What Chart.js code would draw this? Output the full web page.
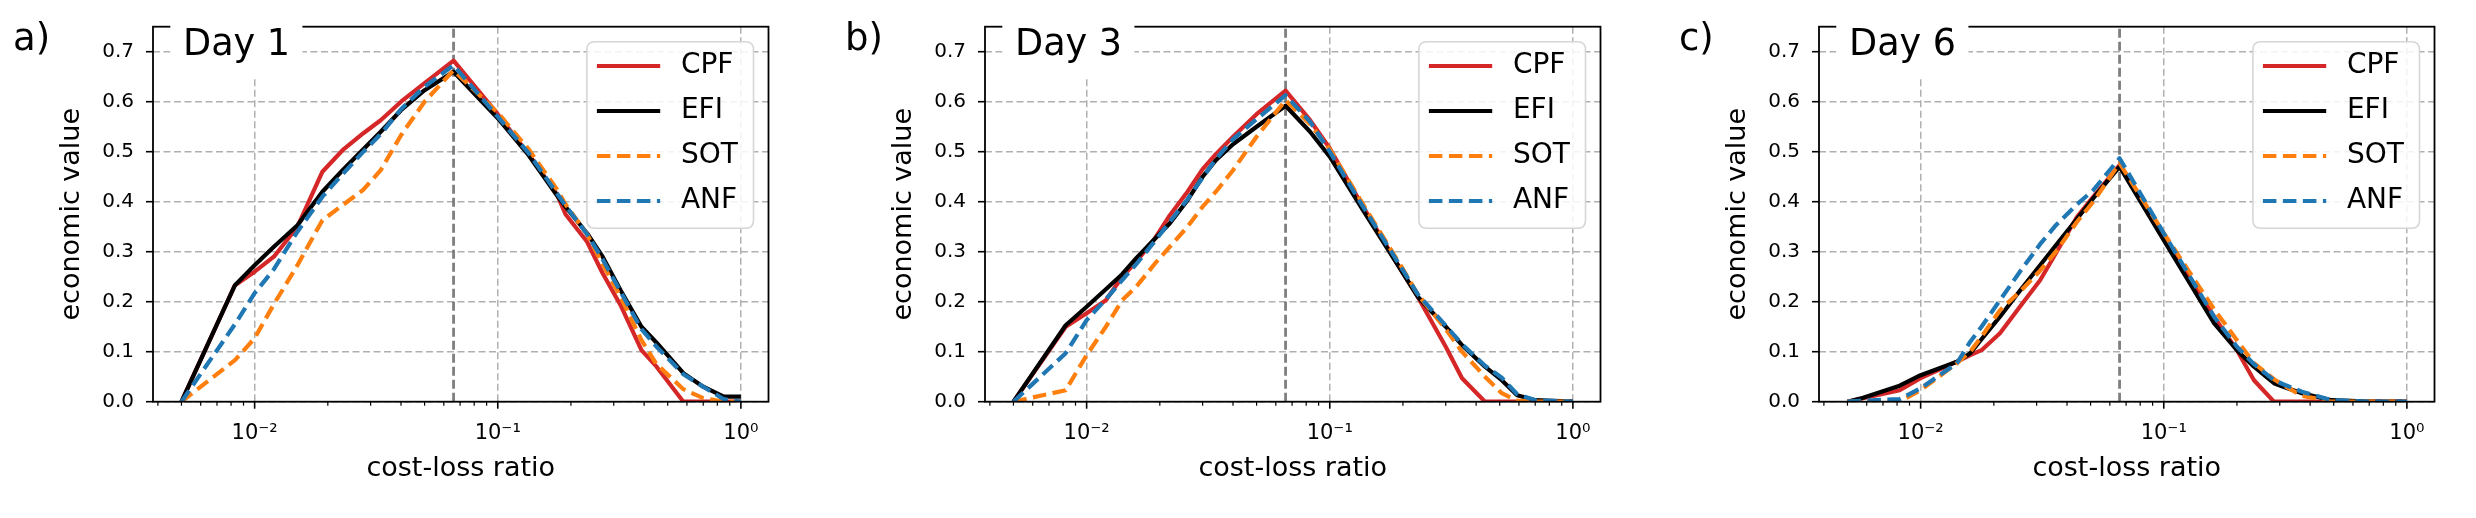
<!DOCTYPE html>
<html>
<head>
<meta charset="utf-8">
<script src="https://cdn.jsdelivr.net/npm/chart.js@4.4.1/dist/chart.umd.min.js"></script>
<style>
  html, body { margin:0; padding:0; background:#fff; }
  body { width:2476px; height:518px; overflow:hidden; position:relative; }
  canvas { position:absolute; top:0; }
</style>
</head>
<body>
<canvas id="c0" width="810" height="518" style="left:0px"></canvas>
<canvas id="c1" width="810" height="518" style="left:832px"></canvas>
<canvas id="c2" width="810" height="518" style="left:1666px"></canvas>
<script>
// ---------------- data ----------------
const PANEL_LABELS = ['a)', 'b)', 'c)'];
const DAY_TITLES = ['Day 1', 'Day 3', 'Day 6'];
const SERIES_NAMES = ['CPF', 'EFI', 'SOT', 'ANF'];
const CLIM = 0.0658;

const X_DAY1 = [0.005, 0.0083, 0.01, 0.012, 0.015, 0.019, 0.023, 0.028, 0.033, 0.04, 0.05, 0.0658, 0.1, 0.134, 0.175, 0.19, 0.233, 0.27, 0.32, 0.39, 0.45, 0.58, 0.7, 0.85, 1.0];
const CPF_DAY1 = [0, 0.233, 0.26, 0.29, 0.35, 0.46, 0.503, 0.537, 0.563, 0.60, 0.637, 0.682, 0.575, 0.495, 0.415, 0.375, 0.32, 0.257, 0.193, 0.103, 0.07, 0, 0, 0, 0];
const EFI_DAY1 = [0, 0.233, 0.273, 0.31, 0.353, 0.42, 0.463, 0.505, 0.54, 0.583, 0.623, 0.66, 0.567, 0.493, 0.413, 0.39, 0.337, 0.29, 0.223, 0.15, 0.118, 0.057, 0.03, 0.01, 0.01];
const SOT_DAY1 = [0, 0.083, 0.127, 0.195, 0.273, 0.363, 0.393, 0.424, 0.463, 0.533, 0.60, 0.663, 0.578, 0.505, 0.425, 0.395, 0.335, 0.275, 0.21, 0.123, 0.075, 0.025, 0.007, 0, 0];
const ANF_DAY1 = [0, 0.155, 0.217, 0.265, 0.34, 0.41, 0.455, 0.50, 0.535, 0.585, 0.63, 0.673, 0.57, 0.497, 0.417, 0.392, 0.335, 0.285, 0.22, 0.145, 0.11, 0.055, 0.03, 0.005, 0];

const X_DAY3 = [0.005, 0.0082, 0.01, 0.012, 0.014, 0.016, 0.019, 0.022, 0.026, 0.03, 0.034, 0.04, 0.05, 0.0658, 0.083, 0.1, 0.137, 0.2, 0.23, 0.3, 0.35, 0.435, 0.51, 0.59, 0.7, 1.0];
const CPF_DAY3 = [0, 0.15, 0.177, 0.203, 0.25, 0.28, 0.325, 0.373, 0.42, 0.465, 0.495, 0.53, 0.575, 0.622, 0.563, 0.507, 0.39, 0.257, 0.21, 0.11, 0.047, 0, 0, 0, 0, 0];
const EFI_DAY3 = [0, 0.153, 0.19, 0.225, 0.255, 0.287, 0.325, 0.357, 0.403, 0.45, 0.483, 0.515, 0.55, 0.592, 0.54, 0.49, 0.383, 0.257, 0.21, 0.15, 0.113, 0.07, 0.043, 0.013, 0.003, 0];
const SOT_DAY3 = [0, 0.023, 0.093, 0.15, 0.203, 0.23, 0.275, 0.31, 0.35, 0.39, 0.42, 0.463, 0.53, 0.603, 0.555, 0.505, 0.395, 0.265, 0.215, 0.145, 0.1, 0.05, 0.017, 0.002, 0, 0];
const ANF_DAY3 = [0, 0.097, 0.163, 0.205, 0.243, 0.275, 0.32, 0.36, 0.405, 0.448, 0.485, 0.525, 0.565, 0.613, 0.56, 0.5, 0.39, 0.263, 0.215, 0.152, 0.115, 0.072, 0.048, 0.015, 0.003, 0];

const X_DAY6 = [0.005, 0.0058, 0.0082, 0.01, 0.0141, 0.016, 0.0178, 0.0212, 0.0256, 0.031, 0.036, 0.044, 0.0513, 0.0658, 0.1, 0.161, 0.2, 0.235, 0.284, 0.31, 0.37, 0.49, 0.7, 1.0];
const CPF_DAY6 = [0, 0.007, 0.023, 0.047, 0.08, 0.093, 0.103, 0.137, 0.19, 0.243, 0.297, 0.37, 0.41, 0.473, 0.33, 0.17, 0.103, 0.043, 0, 0, 0, 0, 0, 0];
const EFI_DAY6 = [0, 0.008, 0.032, 0.053, 0.08, 0.097, 0.125, 0.17, 0.222, 0.273, 0.313, 0.366, 0.407, 0.47, 0.323, 0.157, 0.103, 0.07, 0.037, 0.03, 0.017, 0.003, 0, 0];
const SOT_DAY6 = [0, 0, 0, 0.023, 0.077, 0.1, 0.13, 0.183, 0.22, 0.262, 0.3, 0.36, 0.4, 0.477, 0.337, 0.185, 0.123, 0.077, 0.045, 0.033, 0.012, 0, 0, 0];
const ANF_DAY6 = [0, 0.002, 0.005, 0.027, 0.077, 0.12, 0.15, 0.203, 0.26, 0.315, 0.353, 0.395, 0.423, 0.487, 0.337, 0.17, 0.11, 0.075, 0.043, 0.035, 0.02, 0.003, 0, 0];

const Y_TICKS = [0, 0.1, 0.2, 0.3, 0.4, 0.5, 0.6, 0.7];
const X_TICKS = [0.004, 0.005, 0.006, 0.007, 0.008, 0.009,
                 0.01, 0.02, 0.03, 0.04, 0.05, 0.06, 0.07, 0.08, 0.09,
                 0.1, 0.2, 0.3, 0.4, 0.5, 0.6, 0.7, 0.8, 0.9, 1.0];
const DECADE_LABELS = { '-2': '10\u207B\u00B2', '-1': '10\u207B\u00B9', '0': '10\u2070' };

// ---------------- style ----------------
const FONT = 'DejaVu Sans';
const COLORS = ['#d62728', '#000000', '#ff7f0e', '#1f77b4'];
const LW = 4.2;
const DASH = [13.5, 6.5];
const DASHES = [[], [], DASH, DASH];

const PANELS = [
  { x: X_DAY1, series: [CPF_DAY1, EFI_DAY1, SOT_DAY1, ANF_DAY1] },
  { x: X_DAY3, series: [CPF_DAY3, EFI_DAY3, SOT_DAY3, ANF_DAY3] },
  { x: X_DAY6, series: [CPF_DAY6, EFI_DAY6, SOT_DAY6, ANF_DAY6] },
];

function isDecade(v) {
  if (!(v > 0)) return false;
  const l = Math.log10(v);
  return Math.abs(l - Math.round(l)) < 1e-9;
}

const decor = {
  id: 'decor',
  afterDatasetsDraw(chart, args, opts) {
    const { ctx, chartArea: a, scales: { x, y } } = chart;
    ctx.save();
    // frame
    ctx.strokeStyle = '#000';
    ctx.lineWidth = 1.8;
    ctx.setLineDash([]);
    ctx.strokeRect(a.left, a.top, a.right - a.left, a.bottom - a.top);
    // x ticks (major + minor)
    for (const t of x.ticks) {
      const px = x.getPixelForValue(t.value);
      const len = isDecade(t.value) ? 7 : 4;
      ctx.lineWidth = isDecade(t.value) ? 1.6 : 1.2;
      ctx.beginPath(); ctx.moveTo(px, a.bottom); ctx.lineTo(px, a.bottom + len); ctx.stroke();
    }
    ctx.lineWidth = 1.6;
    for (const t of y.ticks) {
      const py = y.getPixelForValue(t.value);
      ctx.beginPath(); ctx.moveTo(a.left - 7, py); ctx.lineTo(a.left, py); ctx.stroke();
    }
    // title box
    ctx.font = '36.6px "' + FONT + '"';
    const tw = ctx.measureText(opts.title).width;
    ctx.fillStyle = '#fff';
    ctx.fillRect(a.left + 17.3, 12, tw + 25, 64);
    ctx.fillStyle = '#000';
    ctx.textBaseline = 'alphabetic';
    ctx.textAlign = 'left';
    ctx.fillText(opts.title, a.left + 30, a.top + 28.3);
    // panel label
    ctx.font = '37px "' + FONT + '"';
    ctx.fillText(opts.panel, 13, 50);
    // legend
    const bw = 166.6, bh = 186.6;
    const bx = a.right - 15 - bw, by = a.top + 15;
    const r = 8;
    ctx.beginPath();
    ctx.moveTo(bx + r, by);
    ctx.lineTo(bx + bw - r, by); ctx.quadraticCurveTo(bx + bw, by, bx + bw, by + r);
    ctx.lineTo(bx + bw, by + bh - r); ctx.quadraticCurveTo(bx + bw, by + bh, bx + bw - r, by + bh);
    ctx.lineTo(bx + r, by + bh); ctx.quadraticCurveTo(bx, by + bh, bx, by + bh - r);
    ctx.lineTo(bx, by + r); ctx.quadraticCurveTo(bx, by, bx + r, by);
    ctx.closePath();
    ctx.fillStyle = 'rgba(255,255,255,0.85)';
    ctx.fill();
    ctx.strokeStyle = '#d6d6d6';
    ctx.lineWidth = 1.6;
    ctx.stroke();
    ctx.font = '28px "' + FONT + '"';
    ctx.textBaseline = 'middle';
    const ds = chart.data.datasets.filter(d => d.isSeries);
    ds.forEach((d, i) => {
      const cy = by + 24.3 + i * 45;
      ctx.strokeStyle = d.borderColor;
      ctx.lineWidth = d.borderWidth;
      ctx.setLineDash(d.borderDash || []);
      ctx.lineCap = 'butt';
      ctx.beginPath(); ctx.moveTo(bx + 10, cy); ctx.lineTo(bx + 73.3, cy); ctx.stroke();
      ctx.setLineDash([]);
      ctx.fillStyle = '#000';
      ctx.fillText(d.label, bx + 94, cy - 0.5);
    });
    ctx.restore();
  }
};

PANELS.forEach((p, k) => {
  const datasets = p.series.map((vals, i) => ({
    label: SERIES_NAMES[i],
    isSeries: true,
    data: p.x.map((xv, j) => ({ x: xv, y: vals[j] })),
    borderColor: COLORS[i],
    backgroundColor: COLORS[i],
    borderWidth: LW,
    borderDash: DASHES[i],
    borderCapStyle: 'butt',
    borderJoinStyle: 'round',
    pointRadius: 0,
    tension: 0,
    fill: false,
    order: 4 - i,
  }));
  datasets.push({
    label: 'clim',
    isSeries: false,
    data: [{ x: CLIM, y: 0 }, { x: CLIM, y: 0.75 }],
    borderColor: 'rgba(105,105,105,0.85)',
    borderWidth: 2.8,
    borderDash: [9, 4],
    pointRadius: 0,
    fill: false,
    order: 10,
  });

  new Chart(document.getElementById('c' + k), {
    type: 'line',
    data: { datasets },
    plugins: [decor],
    options: {
      responsive: false,
      animation: false,
      events: [],
      layout: { padding: { top: 26.7, right: 41.5, left: 0, bottom: 0 } },
      plugins: {
        legend: { display: false },
        tooltip: { enabled: false },
        title: { display: false },
        decor: { title: DAY_TITLES[k], panel: PANEL_LABELS[k] },
      },
      scales: {
        x: {
          type: 'logarithmic',
          min: 0.003819,
          max: 1.299,
          afterBuildTicks: s => { s.ticks = X_TICKS.map(v => ({ value: v, major: isDecade(v) })); },
          afterFit: s => { s.height = 116.3; },
          ticks: {
            autoSkip: false, maxRotation: 0, minRotation: 0,
            font: { family: FONT, size: 21 }, color: '#000', padding: 12,
            callback: v => isDecade(v) ? DECADE_LABELS[String(Math.round(Math.log10(v)))] : '',
          },
          grid: {
            color: c => (c.tick && isDecade(c.tick.value)) ? '#b0b0b0' : 'rgba(0,0,0,0)',
            lineWidth: 1.5, drawTicks: true, tickLength: 7, tickColor: 'rgba(0,0,0,0)',
          },
          border: { display: false, dash: [7, 3.5] },
          title: {
            display: true, text: 'cost-loss ratio', color: '#000',
            font: { family: FONT, size: 27 }, padding: { top: 0, bottom: 33 },
          },
        },
        y: {
          type: 'linear',
          min: 0,
          max: 0.75,
          afterBuildTicks: s => { s.ticks = Y_TICKS.map(v => ({ value: v })); },
          afterFit: s => { s.width = 153; },
          ticks: {
            font: { family: FONT, size: 20 }, color: '#000', padding: 12,
            callback: v => Number(v).toFixed(1),
          },
          grid: {
            color: '#b0b0b0', lineWidth: 1.5, drawTicks: true, tickLength: 7, tickColor: 'rgba(0,0,0,0)',
          },
          border: { display: false, dash: [7, 3.5] },
          title: {
            display: true, text: 'economic value', color: '#000',
            font: { family: FONT, size: 27 }, padding: { top: 56, bottom: 0 },
          },
        },
      },
    },
  });
});
</script>
</body>
</html>
